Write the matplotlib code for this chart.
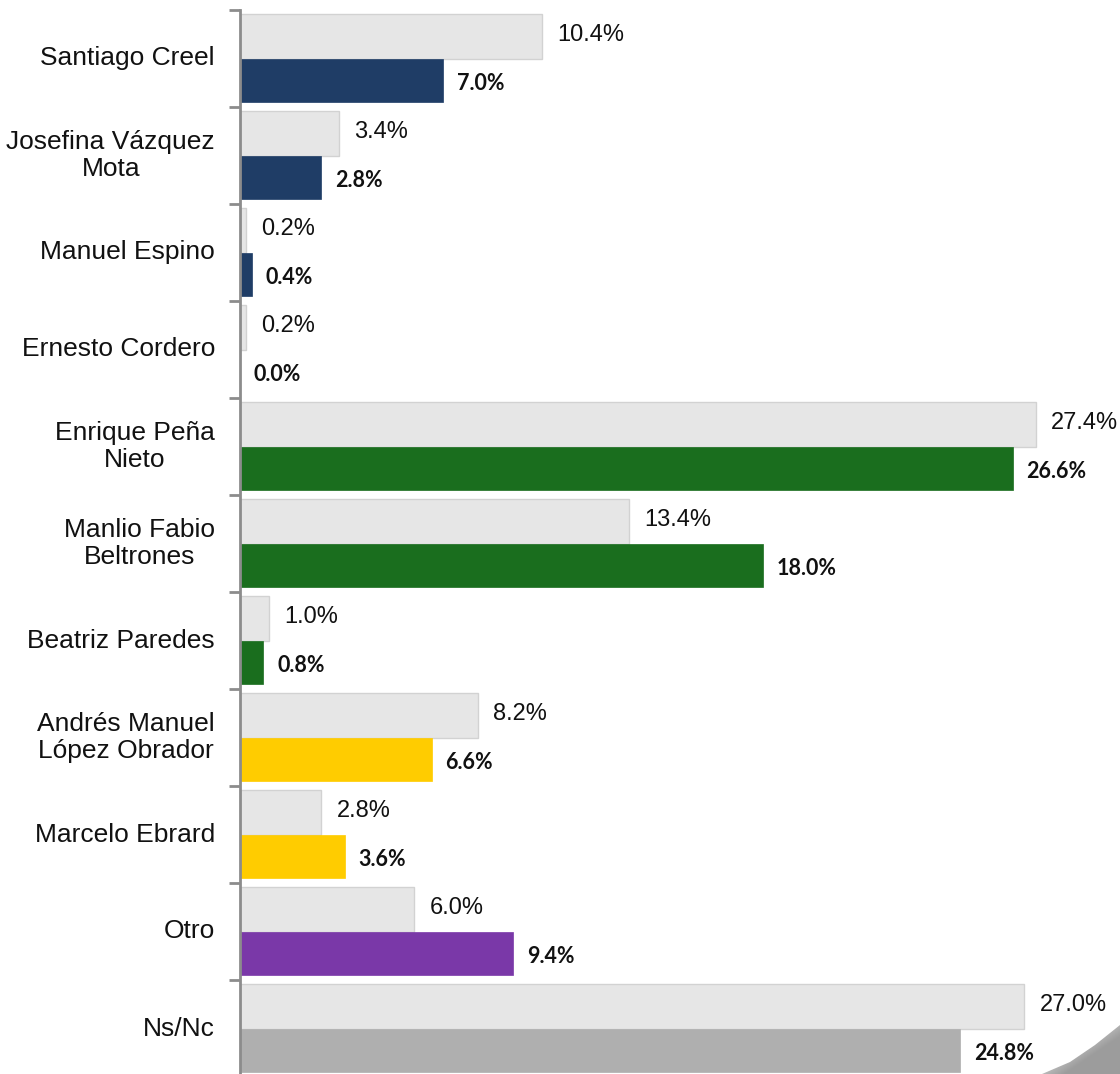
import numpy as np
import matplotlib.pyplot as plt
from matplotlib.patches import Polygon
from matplotlib.transforms import blended_transform_factory

# Candidates and the two series (percent)
candidatos = ["Santiago Creel", "Josefina Vázquez\nMota", "Manuel Espino",
              "Ernesto Cordero", "Enrique Peña\nNieto", "Manlio Fabio\nBeltrones",
              "Beatriz Paredes", "Andrés Manuel\nLópez Obrador", "Marcelo Ebrard",
              "Otro", "Ns/Nc"]
anterior = [10.4, 3.4, 0.2, 0.2, 27.4, 13.4, 1.0, 8.2, 2.8, 6.0, 27.0]
actual = [7.0, 2.8, 0.4, 0.0, 26.6, 18.0, 0.8, 6.6, 3.6, 9.4, 24.8]
colores = ["#1F3D66", "#1F3D66", "#1F3D66", "#1F3D66", "#1A6E1E", "#1A6E1E",
           "#1A6E1E", "#FFCC00", "#FFCC00", "#7A38A8", "#AFAFAF"]

W, H = 1120, 1074
fig = plt.figure(figsize=(W / 100, H / 100), dpi=100)
ax = fig.add_axes([240 / W, -3 / H, 1 - 240 / W, 1067 / H])

y = np.arange(len(candidatos))
h = 0.46
ax.barh(y - 0.225, anterior, height=h, color="#E6E6E6", edgecolor="#D2D2D2", linewidth=1)
ax.barh(y + 0.225, actual, height=h * 0.96, color=colores, edgecolor=colores, linewidth=0.5)

for i in range(len(candidatos)):
    ax.annotate(f"{anterior[i]:.1f}%", (anterior[i], y[i] - 0.225), xytext=(11, 1),
                textcoords="offset points", va="center", ha="left",
                fontsize=17, family="Liberation Sans", color="#111111", annotation_clip=False)
    ax.annotate(f"{actual[i]:.1f}%", (actual[i], y[i] + 0.225), xytext=(10, -2),
                textcoords="offset points", va="center", ha="left",
                fontsize=15.5, family="Lato", fontweight="bold", color="#111111", annotation_clip=False)

# category names, right-aligned to the left of the axis
trans = blended_transform_factory(fig.transFigure, ax.transData)
for i, name in enumerate(candidatos):
    fig.text(215 / W, y[i], name, transform=trans, ha="right", va="center",
             multialignment="center", fontsize=19, family="Liberation Sans",
             color="#111111", linespacing=1.2)

ax.set_xlim(0, (W - 240) / 29.05)
ax.set_ylim(len(candidatos) - 0.5, -0.5)
for s in ["top", "right", "bottom"]:
    ax.spines[s].set_visible(False)
ax.spines["left"].set_color("#8C8C8C")
ax.spines["left"].set_linewidth(2)
ax.set_xticks([])
ax.set_yticks(np.arange(len(candidatos) + 1) - 0.5)
ax.set_yticklabels([])
ax.tick_params(axis="y", length=8, width=2, color="#8C8C8C", direction="out")

# folded page corner
esq = fig.add_axes([0, 0, 1, 1], zorder=5)
esq.set_xlim(0, W)
esq.set_ylim(H, 0)
esq.axis("off")
gx, gy = np.meshgrid(np.linspace(0, 1, 200), np.linspace(0, 1, 200))
grad = np.clip((gx + gy) / 1.3, 0, 1)
img = esq.imshow(grad, cmap="Greys", vmin=-0.1, vmax=2.2, extent=[1040, W, H, 1020],
                 aspect="auto", interpolation="bilinear")
curva = Polygon([[1042, H], [1070, 1062], [1095, 1045], [W, 1025], [W, H]], closed=True,
                facecolor="none", edgecolor="none")
esq.add_patch(curva)
img.set_clip_path(curva)

fig.savefig("out.png", dpi=100)
